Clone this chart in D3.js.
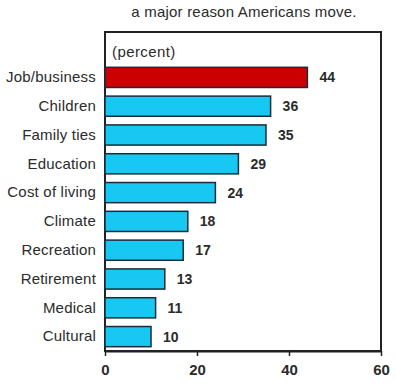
<!DOCTYPE html>
<html>
<head>
<meta charset="utf-8">
<script src="https://cdn.jsdelivr.net/npm/d3@7"></script>
<style>
  body { margin: 0; background: #fff; }
  text { font-family: "Liberation Sans", Arial, sans-serif; fill: #2b2b2b; }
</style>
</head>
<body>
<div id="chart"></div>
<script>
// data
var categories = ["Job/business", "Children", "Family ties", "Education", "Cost of living",
                  "Climate", "Recreation", "Retirement", "Medical", "Cultural"];
var values = [44, 36, 35, 29, 24, 18, 17, 13, 11, 10];
var tickValues = [0, 20, 40, 60];

var svgWidth = 396, svgHeight = 384;
var margin = { top: 32, right: 15, bottom: 33, left: 105 };
var width = svgWidth - margin.left - margin.right;
var height = svgHeight - margin.top - margin.bottom;

var svg = d3.select("#chart").append("svg")
  .attr("width", svgWidth)
  .attr("height", svgHeight);

svg.append("text")
  .attr("x", 244)
  .attr("y", 17)
  .attr("text-anchor", "middle")
  .style("font-size", "15px")
  .style("letter-spacing", "0.2px")
  .text("a major reason Americans move.");

var g = svg.append("g")
  .attr("transform", `translate(${margin.left}, ${margin.top})`);

var x = d3.scaleLinear().domain([0, 60]).range([0, width]);
var y = d3.scaleBand().domain(categories).range([31, height]).paddingInner(0.3).paddingOuter(0.15);

// box
g.append("rect")
  .attr("x", 0).attr("y", 0)
  .attr("width", width).attr("height", height)
  .attr("fill", "none")
  .attr("stroke", "#222")
  .attr("stroke-width", 2);

g.append("text")
  .attr("x", 7)
  .attr("y", 25)
  .style("font-size", "15px")
  .style("letter-spacing", "0.4px")
  .text("(percent)");

// bars
g.selectAll("rect.bar")
  .data(values)
  .enter()
  .append("rect")
  .attr("class", "bar")
  .attr("x", 0)
  .attr("y", (d, i) => y(categories[i]))
  .attr("width", d => x(d))
  .attr("height", y.bandwidth())
  .attr("fill", (d, i) => i === 0 ? "#cc0000" : "#18c8f2")
  .attr("stroke", "#1b2b3b")
  .attr("stroke-width", 1.5);

// value labels
g.selectAll("text.val")
  .data(values)
  .enter()
  .append("text")
  .attr("class", "val")
  .attr("x", d => x(d) + 12)
  .attr("y", (d, i) => y(categories[i]) + y.bandwidth() / 2)
  .attr("dy", "0.36em")
  .style("font-size", "14px")
  .style("font-weight", "bold")
  .text(d => d);

// category axis
var leftAxis = d3.axisLeft(y).tickSize(0).tickPadding(9);
var yAxis = g.append("g").call(leftAxis);
yAxis.select(".domain").remove();
yAxis.selectAll("text")
  .style("font-size", "15px")
  .style("letter-spacing", "0.2px")
  .attr("fill", "#2b2b2b");

// value axis
var bottomAxis = d3.axisBottom(x).tickValues(tickValues).tickSize(5).tickSizeOuter(0).tickPadding(8);
var xAxis = g.append("g")
  .attr("transform", `translate(0, ${height})`)
  .call(bottomAxis);
xAxis.select(".domain").attr("stroke", "#222").attr("stroke-width", 2);
xAxis.selectAll("line").attr("stroke", "#222").attr("stroke-width", 1.5);
xAxis.selectAll("text")
  .style("font-size", "15px")
  .style("font-weight", "bold")
  .attr("fill", "#2b2b2b");
</script>
</body>
</html>
